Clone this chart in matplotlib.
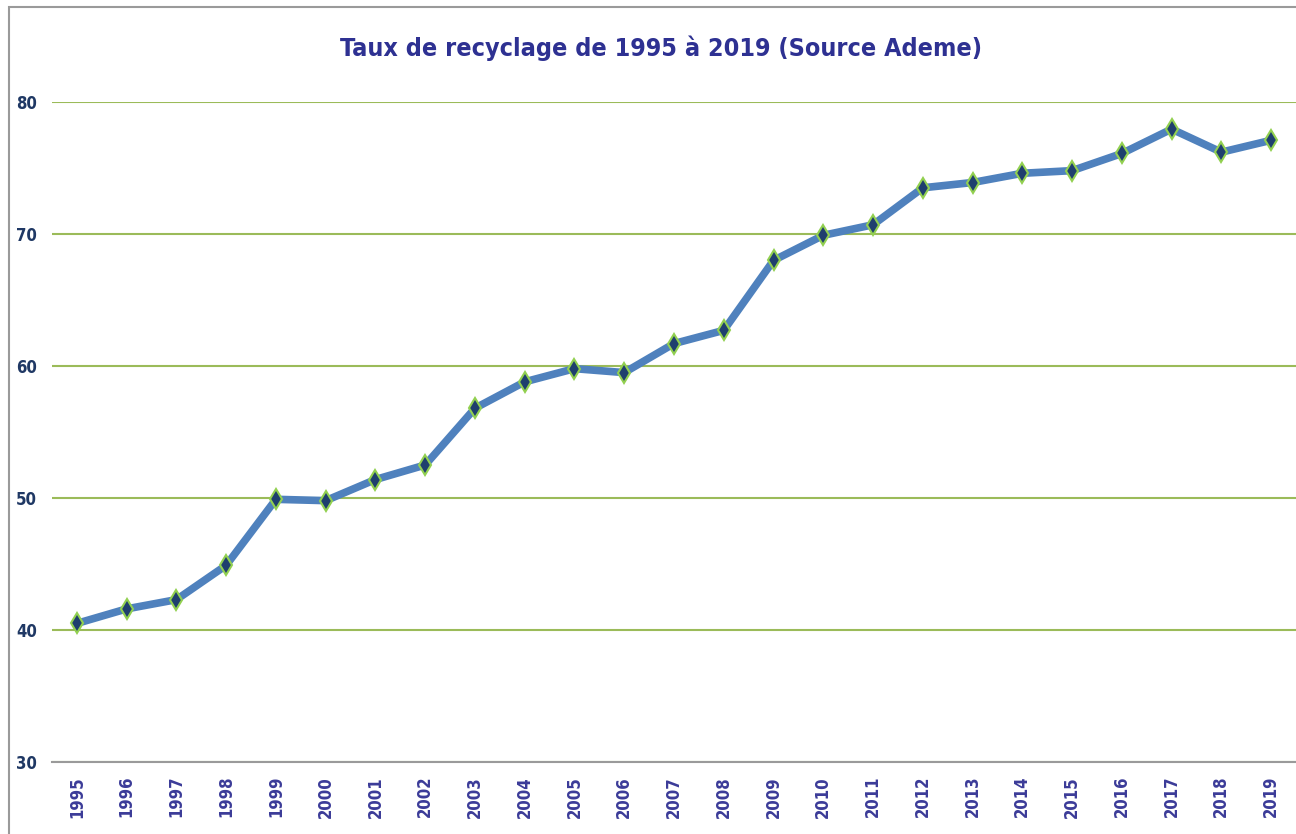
import matplotlib
matplotlib.use("Agg")
import matplotlib.pyplot as plt
from matplotlib import font_manager
from matplotlib.patches import Rectangle

years = [str(y) for y in range(1995, 2020)]
taux = [40.5, 41.6, 42.3, 44.9, 49.9, 49.8, 51.4, 52.5, 56.8, 58.8,
        59.8, 59.5, 61.7, 62.7, 68.0, 69.9, 70.7, 73.5, 73.9, 74.6,
        74.8, 76.1, 77.95, 76.2, 77.1]
yticks = [30, 40, 50, 60, 70, 80]

title = "Taux de recyclage de 1995 à 2019 (Source Ademe)"

# condensed bold face if the system has one
cond = any("Condensed" in f.fname for f in font_manager.fontManager.ttflist
           if f.name == "DejaVu Sans")

fig = plt.figure(figsize=(12.96, 8.34), dpi=100)
ax = fig.add_axes([52 / 1296, 1 - 762 / 834, 1 - 52 / 1296, (762 - 102) / 834])

# grey frame of the chart area
fig.patches.append(Rectangle((9 / 1296, -0.1), 1.2, 1 - 7 / 834 + 0.1,
                             transform=fig.transFigure, fill=False,
                             edgecolor="#9a9a9a", linewidth=1.5))

x = list(range(len(years)))
ax.plot(x, taux, color="#4F81BD", linewidth=5.5, zorder=3,
        marker="d", markersize=10.5, markerfacecolor="#1F3F6E",
        markeredgecolor="#92D050", markeredgewidth=1.5)

ax.set_xlim(-0.5, len(years) - 0.5)
ax.set_ylim(30, 80)
ax.set_yticks(yticks)
ax.set_xticks(x)
ax.set_xticklabels(years, rotation=90, fontweight="bold", fontstretch="condensed",
                   fontsize=12, color="#3B3B98")
ax.set_yticklabels([str(t) for t in yticks], fontweight="bold",
                   fontstretch="condensed", fontsize=12, color="#1F3864")
ax.tick_params(length=0)
ax.tick_params(axis="y", pad=11)
ax.tick_params(axis="x", pad=10)

ax.grid(axis="y", color="#9BBB59", linewidth=1.5)
ax.set_axisbelow(True)
for s in ["top", "right", "left"]:
    ax.spines[s].set_visible(False)
ax.spines["bottom"].set_color("#9a9a9a")
ax.spines["bottom"].set_linewidth(1.5)

fig.text(661 / 1296, 1 - 48 / 834, title, ha="center", va="center",
         fontweight="bold", fontstretch="condensed",
         fontsize=18 if cond else 16, color="#2E3192")

fig.savefig("out.png", dpi=100)
